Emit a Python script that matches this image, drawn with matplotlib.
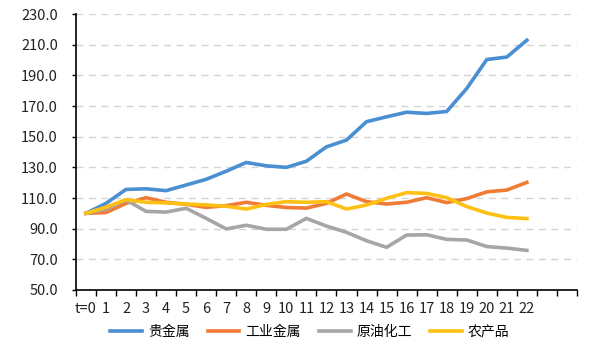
import numpy as np
import matplotlib.pyplot as plt

plt.rcParams['font.family'] = ['Noto Sans CJK SC', 'DejaVu Sans']

periods = ["t=0"] + [str(i) for i in range(1, 23)]
extra_slots = 2  # empty categories after 22

precious = [100, 106.5, 115.6, 116.0, 114.8, 118.5, 122.2, 127.5, 133.2, 131.0, 130.0,
            134.0, 143.4, 147.8, 159.8, 163.0, 166.0, 165.2, 166.5, 181.5, 200.4, 202.0, 213.0]
industrial = [100, 100.5, 106.5, 110.2, 107.2, 105.9, 103.9, 105.0, 107.2, 105.2, 103.8,
              103.4, 106.5, 112.6, 107.6, 106.1, 107.2, 110.2, 107.0, 109.6, 114.0, 115.2, 120.2]
crude_chem = [100, 102.8, 108.7, 101.3, 100.8, 103.3, 96.7, 89.8, 92.2, 89.6, 89.6,
              96.7, 91.7, 87.6, 82.1, 77.8, 85.8, 86.0, 83.0, 82.6, 78.3, 77.3, 75.8]
agri = [100, 104.0, 108.9, 107.2, 106.8, 106.1, 105.5, 104.6, 102.8, 105.8, 107.6,
        107.2, 107.6, 102.8, 105.4, 109.8, 113.5, 113.0, 110.2, 104.4, 100.2, 97.3, 96.6]

series_names = ["贵金属", "工业金属", "原油化工", "农产品"]
series_values = [precious, industrial, crude_chem, agri]
colors = ["#4A8FD2", "#F07B35", "#A6A6A6", "#FEC012"]

y_ticks = np.arange(50, 231, 20)

fig = plt.figure(figsize=(5.93, 3.54), dpi=100)
ax = fig.add_axes([0.128, 0.181, 0.845, 0.779])

x = np.arange(len(periods))
for name, vals, c in zip(series_names, series_values, colors):
    ax.plot(x, vals, color=c, lw=2.6, label=name, solid_joinstyle="round")

n_slots = len(periods) + extra_slots
ax.set_xlim(-0.5, n_slots - 0.5)
ax.set_ylim(50, 230)

ax.set_yticks(y_ticks)
ax.set_yticklabels([f"{v:.1f}" for v in y_ticks])
ax.yaxis.grid(True, color="#d4d4d4", ls=(0, (5, 4)), lw=1.0)
ax.set_axisbelow(True)

ax.set_xticks(np.arange(n_slots))
ax.set_xticklabels(periods + [""] * extra_slots)
ax.set_xticks(np.arange(n_slots + 1) - 0.5, minor=True)
ax.tick_params(axis="x", which="major", length=0, pad=9, labelsize=10.5, colors="#222222")
ax.tick_params(axis="x", which="minor", length=4, width=1.0, direction="out")
ax.tick_params(axis="y", length=3, width=1.0, pad=10, labelsize=10.5, colors="#222222")
ax.tick_params(axis="both", which="both", color="black")

for s in ["top", "right"]:
    ax.spines[s].set_visible(False)
for s in ["left", "bottom"]:
    ax.spines[s].set_color("black")
    ax.spines[s].set_linewidth(1.2)

fig.legend(loc="center", bbox_to_anchor=(0.522, 0.062), ncol=4, frameon=False,
           fontsize=10, handlelength=2.3, columnspacing=1.3, handletextpad=0.4)

plt.savefig("out.png", dpi=100)
plt.close()
